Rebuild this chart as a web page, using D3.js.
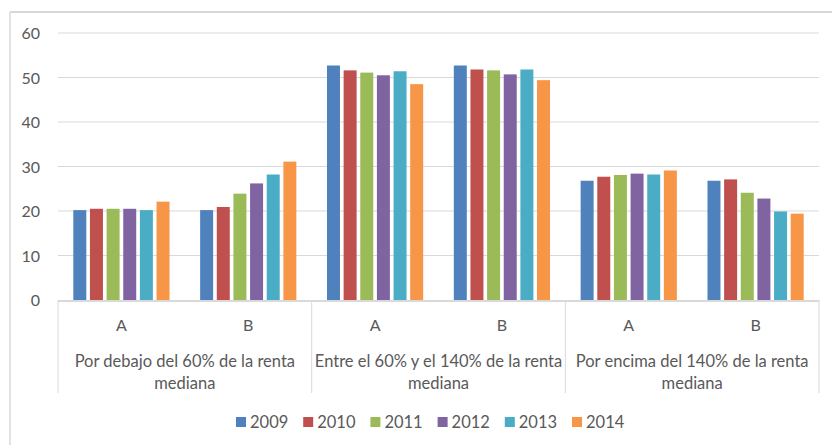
<!DOCTYPE html>
<html>
<head>
<meta charset="utf-8">
<script src="https://cdn.jsdelivr.net/npm/d3@7"></script>
<style>
  body { margin: 0; background: #fff; }
  svg text { font-family: Lato, "Open Sans", sans-serif; fill: #595959; }
</style>
</head>
<body>
<div class="chart"></div>
<script>
// grouped bars: three income bands, each split into A / B, one bar per year
const groups = ['Por debajo del 60% de la renta mediana', 'Entre el 60% y el 140% de la renta mediana', 'Por encima del 140% de la renta mediana'];
const groupLines = [
	['Por debajo del 60% de la renta', 'mediana'],
	['Entre el 60% y el 140% de la renta', 'mediana'],
	['Por encima del 140% de la renta', 'mediana']
];
const subgroups = ['A', 'B'];
const years = ['2009', '2010', '2011', '2012', '2013', '2014'];
const colors = ['#4F81BD', '#C0504D', '#9BBB59', '#8064A2', '#4BACC6', '#F79646'];
const yTicks = [0, 10, 20, 30, 40, 50, 60];

// values per year, in order: group1 A, group1 B, group2 A, group2 B, group3 A, group3 B
const v2009 = [20.2, 20.2, 52.7, 52.7, 26.8, 26.8];
const v2010 = [20.5, 20.9, 51.6, 51.8, 27.7, 27.1];
const v2011 = [20.5, 23.9, 51.1, 51.6, 28.1, 24.1];
const v2012 = [20.5, 26.2, 50.5, 50.7, 28.4, 22.8];
const v2013 = [20.2, 28.2, 51.4, 51.8, 28.2, 19.9];
const v2014 = [22.1, 31.1, 48.5, 49.4, 29.1, 19.4];
const series = [v2009, v2010, v2011, v2012, v2013, v2014];

const W = 832, H = 445;
const plot = { left: 58, right: 819, top: 33, bottom: 300 };

const svg = d3.select('.chart').append('svg')
	.attr('width', W)
	.attr('height', H);

// outer chart border (only top and left are visible in frame)
svg.append('line').attr('x1', 10).attr('x2', W).attr('y1', 12).attr('y2', 12)
	.attr('stroke', '#d9d9d9').attr('stroke-width', 2);
svg.append('line').attr('x1', 10).attr('x2', 10).attr('y1', 12).attr('y2', H)
	.attr('stroke', '#d9d9d9').attr('stroke-width', 1.5);

const y = d3.scaleLinear().domain([0, 60]).range([plot.bottom, plot.top]);

const x0 = d3.scaleBand().domain(groups).range([plot.left, plot.right]);
const x1 = d3.scaleBand().domain(subgroups).range([0, x0.bandwidth()]);
const x2 = d3.scaleBand().domain(years).range([0, x1.bandwidth()])
	.paddingInner(0.22).paddingOuter(0.92);

// gridlines
svg.append('g').selectAll('line').data(yTicks.filter(d => d > 0)).enter()
	.append('line')
	.attr('x1', plot.left).attr('x2', plot.right)
	.attr('y1', d => y(d)).attr('y2', d => y(d))
	.attr('stroke', '#d9d9d9').attr('stroke-width', 1);

// y axis labels
const yAxis = d3.axisLeft(y).tickValues(yTicks).tickSize(0).tickPadding(18);
const yg = svg.append('g').attr('transform', `translate(${plot.left},0)`).call(yAxis);
yg.select('.domain').remove();
yg.selectAll('text').style('font-size', '16px').attr('fill', '#595959').attr('dy', '0.35em');

// bars
const cells = [];
groups.forEach((g, gi) => {
	subgroups.forEach((s, si) => {
		years.forEach((yr, yi) => {
			cells.push({ g, s, yr, yi, value: series[yi][gi * 2 + si] });
		});
	});
});

svg.append('g').selectAll('rect').data(cells).enter()
	.append('rect')
	.attr('x', d => x0(d.g) + x1(d.s) + x2(d.yr))
	.attr('y', d => y(d.value))
	.attr('width', x2.bandwidth())
	.attr('height', d => y(0) - y(d.value))
	.attr('fill', d => colors[d.yi]);

// category axis line and separators
svg.append('line').attr('x1', plot.left).attr('x2', plot.right)
	.attr('y1', plot.bottom + 1).attr('y2', plot.bottom + 1)
	.attr('stroke', '#d9d9d9').attr('stroke-width', 2);

const seps = groups.map(g => x0(g)).concat([plot.right]);
svg.append('g').selectAll('line').data(seps).enter()
	.append('line')
	.attr('x1', d => d).attr('x2', d => d)
	.attr('y1', plot.bottom).attr('y2', 393)
	.attr('stroke', '#d9d9d9').attr('stroke-width', 1);

// sub labels A / B
const subLabels = [];
groups.forEach(g => subgroups.forEach(s => subLabels.push({ g, s })));
svg.append('g').selectAll('text').data(subLabels).enter()
	.append('text')
	.attr('x', d => x0(d.g) + x1(d.s) + x1.bandwidth() / 2)
	.attr('y', 325)
	.attr('dy', '0.35em')
	.attr('text-anchor', 'middle')
	.style('font-size', '16px')
	.text(d => d.s);

// group labels, two lines each
groups.forEach((g, gi) => {
	const t = svg.append('text')
		.attr('x', x0(g) + x0.bandwidth() / 2)
		.attr('y', 361)
		.attr('text-anchor', 'middle')
		.style('font-size', '16.5px');
	groupLines[gi].forEach((line, li) => {
		t.append('tspan')
			.attr('x', x0(g) + x0.bandwidth() / 2)
			.attr('dy', li === 0 ? '0.35em' : 22)
			.text(line);
	});
});

// legend
const legendStep = 67.2;
const legendStart = 236;
const legend = svg.append('g').selectAll('g').data(years).enter()
	.append('g')
	.attr('transform', (d, i) => `translate(${legendStart + i * legendStep},422)`);

legend.append('rect')
	.attr('x', 0).attr('y', -5)
	.attr('width', 10).attr('height', 10)
	.attr('fill', (d, i) => colors[i]);

legend.append('text')
	.attr('x', 14)
	.attr('dy', '0.35em')
	.style('font-size', '16.5px')
	.text(d => d);
</script>
</body>
</html>
